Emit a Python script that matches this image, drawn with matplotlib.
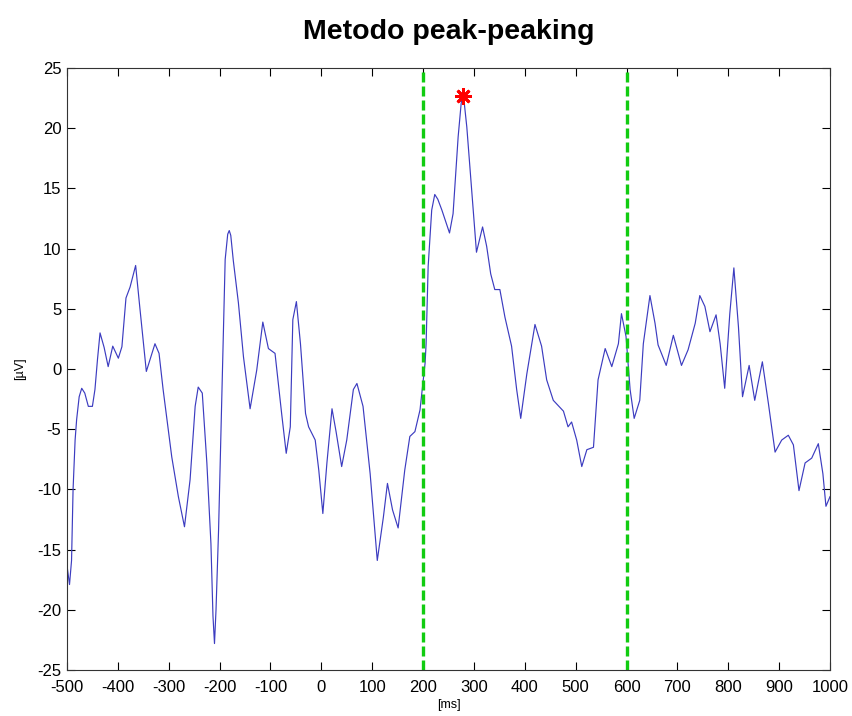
import numpy as np
import matplotlib
matplotlib.use("Agg")
import matplotlib.pyplot as plt

plt.rcParams['font.family'] = ['Liberation Sans', 'DejaVu Sans']
plt.rcParams['axes.unicode_minus'] = False

# ERP waveform samples: latency [ms] and amplitude [uV]
time_ms = [
    -500, -495, -491, -488, -484, -481, -476, -471, -465, -458, -450, -445, -440, -435,
    -427, -419, -410, -399, -392, -384, -376, -365, -357, -344, -327, -319, -311, -294,
    -281, -269, -258, -248, -242, -234, -225, -217, -213, -210, -207, -202, -194, -189,
    -184, -181, -178, -173, -163, -153, -140, -127, -115, -104, -91, -78, -69, -61, -56,
    -49, -41, -31, -25, -12, -5, 3, 11, 21, 29, 40, 50, 63, 70, 82, 96, 110, 122, 130,
    140, 151, 164, 174, 184, 194, 204, 206, 210, 217, 223, 229, 237, 252, 259, 269, 275,
    278, 281, 286, 296, 305, 317, 325, 333, 341, 351, 361, 374, 384, 392, 404, 420, 433,
    443, 456, 476, 485, 492, 502, 512, 522, 535, 544, 558, 571, 584, 590, 599, 607, 615,
    626, 633, 646, 656, 662, 678, 692, 708, 721, 735, 744, 754, 764, 776, 784, 793, 803,
    811, 820, 828, 841, 852, 867, 879, 892, 905, 918, 928, 939, 951, 964, 977, 986, 992,
    1000,
]
amplitude_uv = [
    -16.3, -17.9, -15.9, -10.0, -5.9, -4.2, -2.3, -1.6, -2.0, -3.1, -3.1, -1.7, 0.8, 3.0,
    1.8, 0.2, 1.9, 0.9, 1.85, 5.9, 6.8, 8.6, 5.2, -0.2, 2.1, 1.3, -1.7, -7.3, -10.6,
    -13.1, -9.2, -3.1, -1.5, -2.0, -7.8, -14.5, -20.5, -22.8, -20.0, -13.4, 0.5, 9.1,
    11.2, 11.5, 11.1, 9.0, 5.5, 1.0, -3.3, -0.1, 3.9, 1.7, 1.3, -3.7, -7.0, -4.8, 4.1,
    5.6, 2.1, -3.7, -4.8, -5.9, -8.4, -12.0, -7.8, -3.3, -5.2, -8.1, -5.9, -1.7, -1.2,
    -3.1, -8.7, -15.9, -12.3, -9.5, -11.7, -13.2, -8.4, -5.6, -5.2, -3.4, 0.5, 2.1, 8.5,
    13.2, 14.5, 14.1, 13.2, 11.3, 12.9, 19.3, 22.1, 22.7, 22.1, 20.1, 14.6, 9.7, 11.8,
    10.2, 7.9, 6.6, 6.6, 4.3, 1.9, -1.7, -4.1, -0.4, 3.7, 1.9, -0.9, -2.6, -3.5, -4.8,
    -4.4, -5.9, -8.1, -6.7, -6.5, -0.9, 1.7, 0.2, 2.1, 4.6, 2.7, -1.7, -4.1, -2.6, 2.1,
    6.1, 3.8, 2.0, 0.3, 2.8, 0.3, 1.6, 3.8, 6.1, 5.2, 3.1, 4.5, 2.1, -1.6, 4.6, 8.4, 3.5,
    -2.3, 0.3, -2.6, 0.6, -2.9, -6.9, -5.9, -5.5, -6.3, -10.1, -7.8, -7.4, -6.2, -8.7,
    -11.4, -10.6,
]

# analysis window bounds [ms]
window_ms = [200, 600]

x_ticks = list(range(-500, 1001, 100))
y_ticks = list(range(-25, 26, 5))

t = np.array(time_ms)
v = np.array(amplitude_uv)

fig = plt.figure(figsize=(8.52, 7.16), dpi=100)
ax = fig.add_axes([0.0786, 0.0642, 0.8956, 0.8408])

ax.plot(t, v, color='#3c3cc0', linewidth=0.85, solid_joinstyle='round')

for w in window_ms:
    ax.axvline(w, color='#11cc11', linestyle=(0, (3.0, 1.2)), linewidth=2.4)

# peak within the analysis window
mask = (t >= window_ms[0]) & (t <= window_ms[1])
i_peak = np.argmax(np.where(mask, v, -np.inf))
ax.plot(t[i_peak], v[i_peak], marker=(8, 2, 0), color='red',
        markersize=12, markeredgewidth=2.0, linestyle='none')

ax.set_xlim(-500, 1000)
ax.set_ylim(-25, 25)
ax.set_xticks(x_ticks)
ax.set_yticks(y_ticks)
ax.tick_params(direction='in', length=6, width=0.8, top=True, right=True,
               labelsize=12)
ax.tick_params(axis='x', pad=7)
ax.tick_params(axis='y', pad=4)
for s in ax.spines.values():
    s.set_linewidth(0.8)
    s.set_color('#333333')

ax.set_xlabel('[ms]', fontsize=9, labelpad=3)
ax.set_ylabel('[µV]', fontsize=9, labelpad=8)
ax.set_title('Metodo peak-peaking', fontsize=20.5, fontweight='bold', pad=21)

fig.savefig('out.png', dpi=100)
